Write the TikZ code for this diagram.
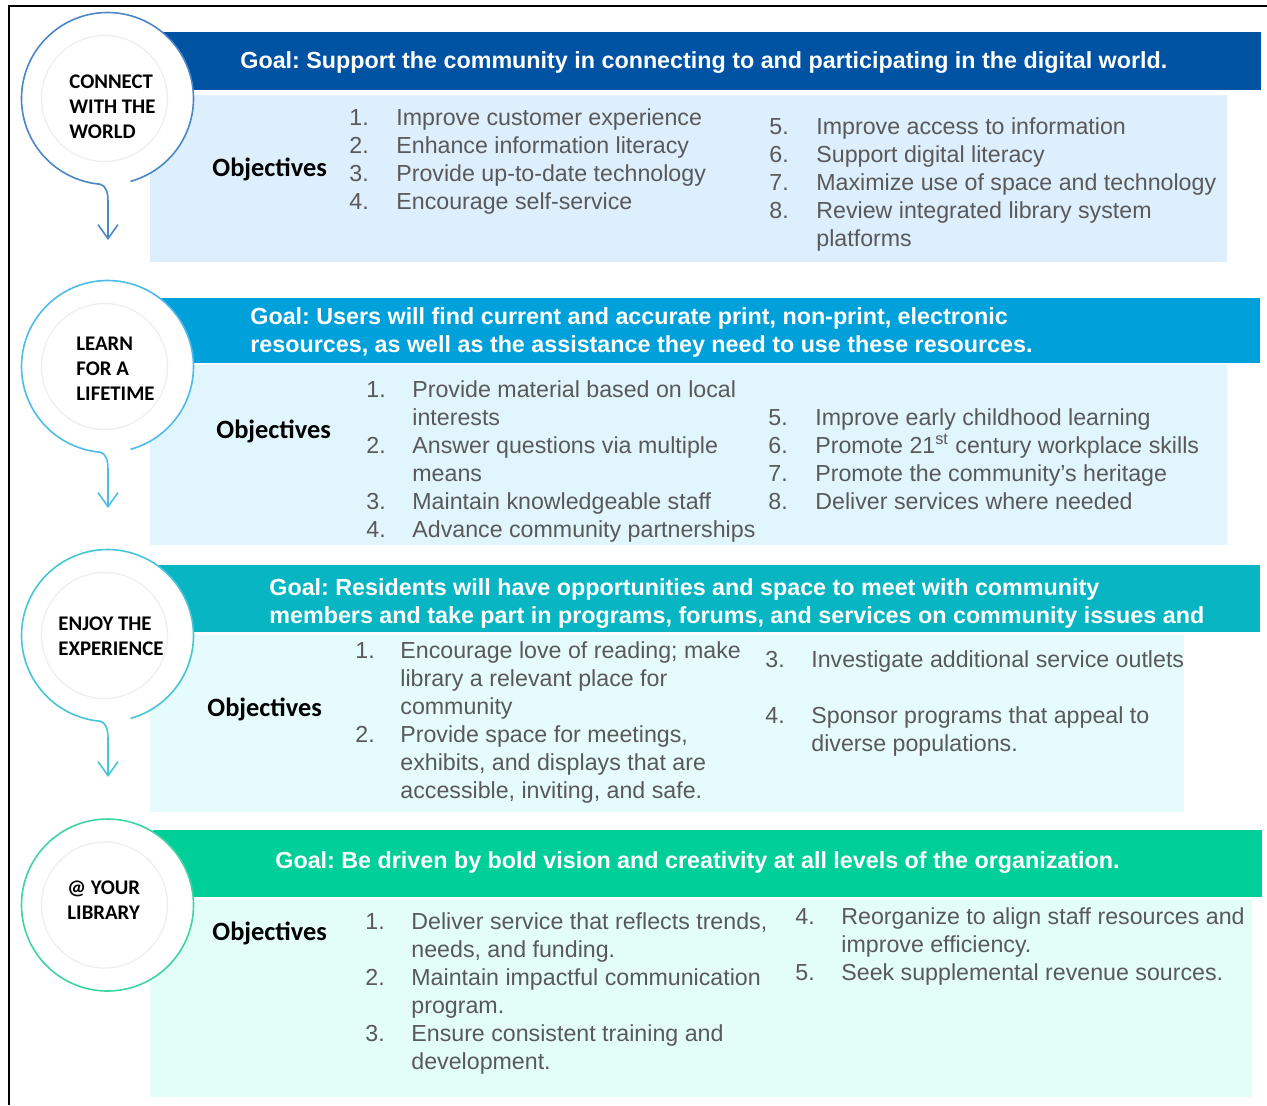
\documentclass[tikz,border=0pt]{standalone}
\usepackage{fontspec}
\usetikzlibrary{arrows.meta}
\newfontfamily\arialf{Liberation Sans}
\newfontfamily\calf{Carlito}
\frenchspacing
\definecolor{gA}{HTML}{0052A3}
\definecolor{gB}{HTML}{00A1DB}
\definecolor{gC}{HTML}{08B6C3}
\definecolor{gD}{HTML}{00CF9A}
\definecolor{bA}{HTML}{DDEEFC}
\definecolor{bB}{HTML}{E1F5FD}
\definecolor{bC}{HTML}{E5FBFC}
\definecolor{bD}{HTML}{E3FDF7}
\definecolor{cA}{HTML}{4A87C9}
\definecolor{cB}{HTML}{4CBCEB}
\definecolor{cC}{HTML}{45C6D6}
\definecolor{cD}{HTML}{3DD5A4}
\definecolor{objgray}{HTML}{595959}
\definecolor{innergray}{HTML}{EEEEEE}
\tikzset{
  goaltext/.style={text=white, font=\arialf\bfseries\frenchspacing\fontsize{11.65}{14}\selectfont, inner sep=0pt, anchor=base west},
  objtext/.style={text=objgray, font=\arialf\frenchspacing\fontsize{11.6}{14}\selectfont, inner sep=0pt, anchor=base west},
  objhead/.style={font=\calf\bfseries\fontsize{13.2}{15}\selectfont, inner sep=0pt, anchor=base west},
  circlabel/.style={font=\calf\bfseries\fontsize{10.4}{12.5}\selectfont, inner sep=0pt, anchor=base west},
  bubbleline/.style={line width=0.8pt},
  innerring/.style={draw=innergray, line width=0.6pt},
}
\newcommand\bubbletail[1]{%
  \fill[white] (0,0) circle[radius=86];
  \draw[innerring] (-3,0) circle[radius=63];
  \draw[bubbleline, draw=#1, {Straight Barb[length=7pt,width=10pt]}-] (0.5,141.5) -- (0.5,103.5) .. controls (0.5,93.5) and (-1.5,87) .. (-7.5,85.7) -- plot[domain=95:434.5,samples=140] ({86*cos(\x)},{86*sin(\x)});
}
\newcommand\stack[1]{\begin{tabular}[t]{@{}l@{}}#1\end{tabular}}
\begin{document}
\begin{tikzpicture}[x=0.5pt,y=-0.5pt]
\useasboundingbox (0,0) rectangle (1267,1105);
% frame
\draw[line width=1pt] (9,1105) -- (9,6) -- (1267,6);
% boxes
\fill[bA] (150,95) rectangle (1227,262);
\fill[bB] (150,365) rectangle (1227,545);
\fill[bC] (150,635) rectangle (1184,812);
\fill[bD] (150,900) rectangle (1252,1097);
% banners
\fill[gA] (163,32) rectangle (1261,90);
\fill[gB] (160,298) rectangle (1260,363);
\fill[gC] (157,565) rectangle (1260,632);
\fill[gD] (153,830) rectangle (1262,897);
% bubbles
\coordinate (c1) at (107.5,98.5);
\coordinate (c2) at (107.5,366.5);
\coordinate (c3) at (107.5,635.5);
\coordinate (c4) at (107.5,905);
\begin{scope}[shift={(c1)}]\bubbletail{cA}\end{scope}
\begin{scope}[shift={(c2)}]\bubbletail{cB}\end{scope}
\begin{scope}[shift={(c3)}]\bubbletail{cC}\end{scope}
\begin{scope}[shift={(c4)}]
  \fill[white] (0,0) circle[radius=86];
  \draw[innerring] (-3,0) circle[radius=63];
  \draw[bubbleline, draw=cD] (0,0) circle[radius=86];
\end{scope}
% circle labels
\node[circlabel] (l1) at (69,88) {\stack{CONNECT\\WITH THE\\WORLD}};
\node[circlabel] (l2) at (76,350) {\stack{LEARN\\FOR A\\LIFETIME}};
\node[circlabel] (l3) at (58,630) {\stack{ENJOY THE\\EXPERIENCE}};
\node[circlabel] (l4) at (67,894) {\stack{@ YOUR\\LIBRARY}};
% goal texts
\node[goaltext] (g1) at (240,68) {Goal: Support the community in connecting to and participating in the digital world.};
\node[goaltext] (g2) at (250,324) {\stack{Goal: Users will find current and accurate print, non-print, electronic\\resources, as well as the assistance they need to use these resources.}};
\node[goaltext] (g3) at (269,595) {\stack{Goal: Residents will have opportunities and space to meet with community\\members and take part in programs, forums, and services on community issues and}};
\node[goaltext] (g4) at (275,868) {Goal: Be driven by bold vision and creativity at all levels of the organization.};
% objectives headings
\node[objhead] (h1) at (212,176) {Objectives};
\node[objhead] (h2) at (216,438) {Objectives};
\node[objhead] (h3) at (207,716) {Objectives};
\node[objhead] (h4) at (212,940) {Objectives};
% section 1
\node[objtext] (o1a) at (349,125) {\begin{tabular}[t]{@{}p{23.5pt}@{}l@{}}
1. & Improve customer experience\\
2. & Enhance information literacy\\
3. & Provide up-to-date technology\\
4. & Encourage self-service\end{tabular}};
\node[objtext] (o1b) at (769,134) {\begin{tabular}[t]{@{}p{23.5pt}@{}l@{}}
5. & Improve access to information\\
6. & Support digital literacy\\
7. & Maximize use of space and technology\\
8. & Review integrated library system\\
 & platforms\end{tabular}};
% section 2
\node[objtext] (o2a) at (366,397) {\begin{tabular}[t]{@{}p{23pt}@{}l@{}}
1. & Provide material based on local\\
 & interests\\
2. & Answer questions via multiple\\
 & means\\
3. & Maintain knowledgeable staff\\
4. & Advance community partnerships\end{tabular}};
\node[objtext] (o2b) at (768,425) {\begin{tabular}[t]{@{}p{23.5pt}@{}l@{}}
5. & Improve early childhood learning\\
6. & Promote 21\textsuperscript{st} century workplace skills\\
7. & Promote the community’s heritage\\
8. & Deliver services where needed\end{tabular}};
% section 3
\node[objtext] (o3a) at (355,658) {\begin{tabular}[t]{@{}p{22.5pt}@{}l@{}}
1. & Encourage love of reading; make\\
 & library a relevant place for\\
 & community\\
2. & Provide space for meetings,\\
 & exhibits, and displays that are\\
 & accessible, inviting, and safe.\end{tabular}};
\node[objtext] (o3b) at (765,667) {\begin{tabular}[t]{@{}p{23pt}@{}l@{}}
3. & Investigate additional service outlets\\
 & \\
4. & Sponsor programs that appeal to\\
 & diverse populations.\end{tabular}};
% section 4
\node[objtext] (o4a) at (365,929) {\begin{tabular}[t]{@{}p{23pt}@{}l@{}}
1. & Deliver service that reflects trends,\\
 & needs, and funding.\\
2. & Maintain impactful communication\\
 & program.\\
3. & Ensure consistent training and\\
 & development.\end{tabular}};
\node[objtext] (o4b) at (795,924) {\begin{tabular}[t]{@{}p{23pt}@{}l@{}}
4. & Reorganize to align staff resources and\\
 & improve efficiency.\\
5. & Seek supplemental revenue sources.\end{tabular}};
\end{tikzpicture}
\end{document}
